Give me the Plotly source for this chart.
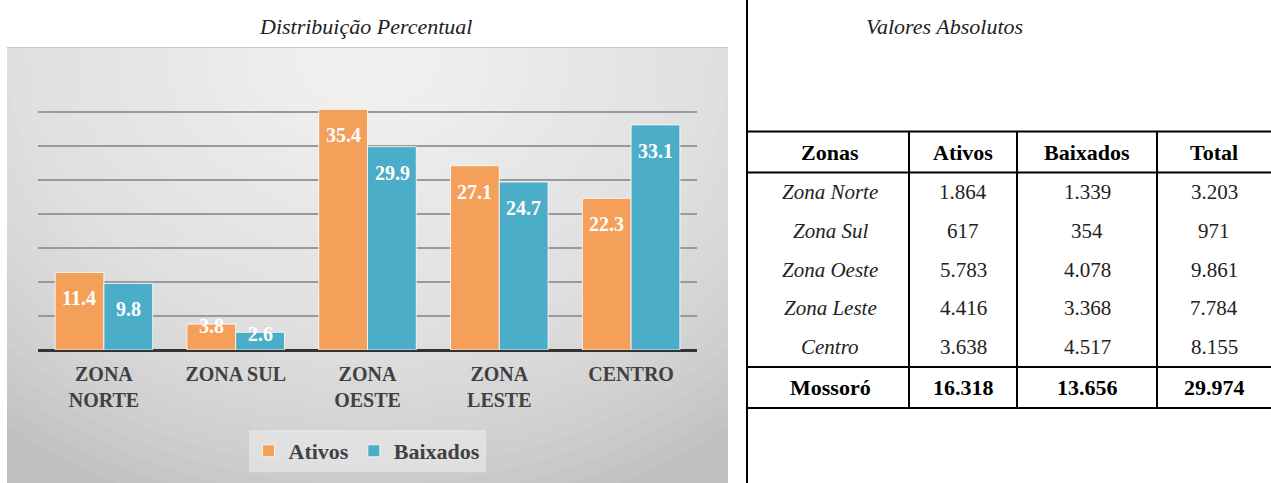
import plotly.graph_objects as go

# dados do gráfico (percentuais)
zonas = ["ZONA<br>NORTE", "ZONA SUL", "ZONA<br>OESTE", "ZONA<br>LESTE", "CENTRO"]
ativos_pct = [11.4, 3.8, 35.4, 27.1, 22.3]
baixados_pct = [9.8, 2.6, 29.9, 24.7, 33.1]

# dados da tabela (valores absolutos)
tab_header = ["Zonas", "Ativos", "Baixados", "Total"]
tab_zonas = ["Zona Norte", "Zona Sul", "Zona Oeste", "Zona Leste", "Centro"]
tab_ativos = ["1.864", "617", "5.783", "4.416", "3.638"]
tab_baixados = ["1.339", "354", "4.078", "3.368", "4.517"]
tab_total = ["3.203", "971", "9.861", "7.784", "8.155"]
tab_rodape = ["Mossoró", "16.318", "13.656", "29.974"]

W, H = 1271, 483
SERIF = "Liberation Serif"
LARANJA = "#F4A05B"
AZUL = "#4BADC8"


def px(x):
    return x / W


def py(y):
    return 1 - y / H


def texto(t, x, y, size, color="#222"):
    return dict(text=t, x=px(x), y=py(y), xref="paper", yref="paper", showarrow=False,
                xanchor="center", yanchor="middle",
                font=dict(family=SERIF, size=size, color=color))


fig = go.Figure()
fig.add_trace(go.Bar(x=zonas, y=ativos_pct, name="Ativos", marker_color=LARANJA,
                     marker_line=dict(color="rgba(255,255,255,0.8)", width=1)))
fig.add_trace(go.Bar(x=zonas, y=baixados_pct, name="Baixados", marker_color=AZUL,
                     marker_line=dict(color="rgba(255,255,255,0.8)", width=1)))

shapes = []
# fundo com gradiente (caixa cinza + elipses brancas translúcidas)
shapes.append(dict(type="rect", xref="paper", yref="paper", layer="below",
                   x0=px(7), x1=px(728), y0=py(483), y1=py(47),
                   fillcolor="#c0c0c0", line=dict(width=0)))
n = 32
for k in range(n, 0, -1):
    rx, ry = 580 * k / n, 480 * k / n
    cx, cy = 368, 50
    shapes.append(dict(type="circle", xref="paper", yref="paper", layer="below",
                       x0=px(cx - rx), x1=px(cx + rx), y0=py(cy + ry), y1=py(cy - ry),
                       fillcolor="rgba(255,255,255,0.058)", line=dict(width=0)))
# mascarar o que sai da caixa
shapes.append(dict(type="rect", xref="paper", yref="paper", layer="below",
                   x0=px(728), x1=1, y0=0, y1=1, fillcolor="white", line=dict(width=0)))
shapes.append(dict(type="rect", xref="paper", yref="paper", layer="below",
                   x0=0, x1=px(7), y0=0, y1=1, fillcolor="white", line=dict(width=0)))
shapes.append(dict(type="rect", xref="paper", yref="paper", layer="below",
                   x0=0, x1=px(728), y0=py(47), y1=1, fillcolor="white", line=dict(width=0)))
# leve borda superior da caixa
shapes.append(dict(type="line", xref="paper", yref="paper", layer="below",
                   x0=px(7), x1=px(728), y0=py(47.5), y1=py(47.5),
                   line=dict(color="#c8c8c8", width=1)))

# divisória vertical
shapes.append(dict(type="line", xref="paper", yref="paper", x0=px(747), x1=px(747),
                   y0=0, y1=1, line=dict(color="black", width=2)))

# tabela
col_lines = [909, 1017, 1157]
col_centers = [830, 963, 1087, 1214]
row_lines = [131.5, 172.5, 367, 408]
for yl in row_lines:
    shapes.append(dict(type="line", xref="paper", yref="paper", x0=px(747), x1=1,
                       y0=py(yl), y1=py(yl), line=dict(color="black", width=2)))
for xl in col_lines:
    shapes.append(dict(type="line", xref="paper", yref="paper", x0=px(xl), x1=px(xl),
                       y0=py(row_lines[0]), y1=py(row_lines[-1]), line=dict(color="black", width=2)))

annotations = [
    texto("<i>Distribuição Percentual</i>", 365, 27, 22),
    texto("<i>Valores Absolutos</i>", 944, 27, 22),
]

header_y = 152
row_ys = [192, 231, 269.5, 308, 346.5]
foot_y = 387
for c, t in zip(col_centers, tab_header):
    annotations.append(texto(f"<b>{t}</b>", c, header_y, 22, "black"))
for i, ry in enumerate(row_ys):
    vals = [f"<i>{tab_zonas[i]}</i>", tab_ativos[i], tab_baixados[i], tab_total[i]]
    for c, t in zip(col_centers, vals):
        annotations.append(texto(t, c, ry, 21))
for c, t in zip(col_centers, tab_rodape):
    annotations.append(texto(f"<b>{t}</b>", c, foot_y, 22, "black"))

# rótulos de dados dentro das barras
for vals, shift in [(ativos_pct, -24.5), (baixados_pct, 24.5)]:
    for z, v in zip(zonas, vals):
        annotations.append(dict(text=f"<b>{v}</b>", x=z, y=v, xref="x", yref="y",
                                xshift=shift, yshift=-26 if v > 8 else -2, showarrow=False,
                                xanchor="center", yanchor="middle",
                                font=dict(family=SERIF, size=20, color="white")))

fig.update_layout(
    width=W, height=H,
    margin=dict(l=0, r=0, t=0, b=0),
    paper_bgcolor="white",
    plot_bgcolor="rgba(0,0,0,0)",
    barmode="group",
    bargap=0.26,
    bargroupgap=0.0,
    shapes=shapes,
    annotations=annotations,
    showlegend=True,
    legend=dict(orientation="h", x=px(367), y=py(451), xanchor="center", yanchor="middle",
                bgcolor="rgba(255,255,255,0.35)",
                font=dict(family=SERIF, size=22, color="#404040", weight="bold"),
                itemwidth=30, traceorder="normal"),
    xaxis=dict(domain=[px(38), px(697)], showgrid=False, showline=False, ticks="",
               ticklabelstandoff=10,
               tickfont=dict(family=SERIF, size=20, color="#404040", weight="bold")),
    yaxis=dict(domain=[py(350), py(78)], range=[0, 40], dtick=5, showticklabels=False,
               showgrid=True, gridcolor="#9a9a9a", gridwidth=2,
               zeroline=True, zerolinecolor="#333333", zerolinewidth=3),
)

fig.write_html("out.html", config={"displayModeBar": False},
               post_script="document.body.style.margin='0';")
